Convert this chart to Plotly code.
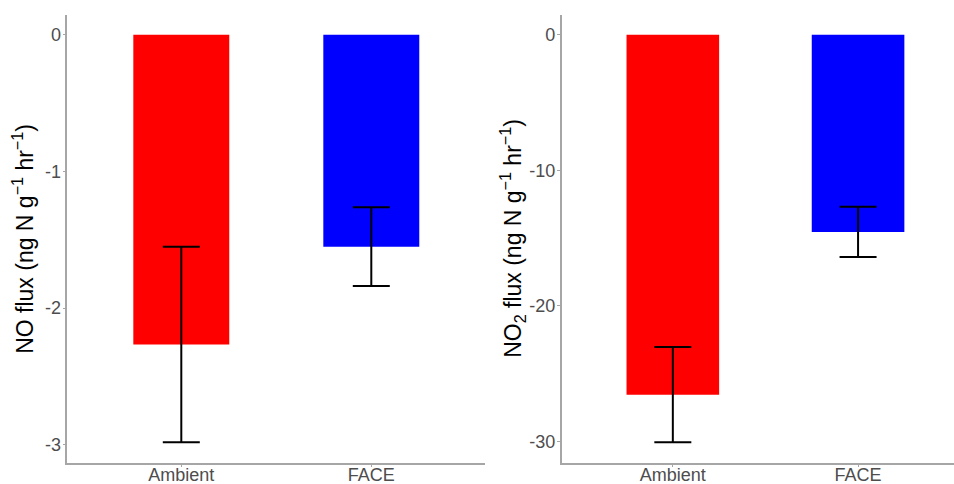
import plotly.graph_objects as go

# Treatment groups and flux summaries (mean and standard error)
treatments = ["Ambient", "FACE"]
bar_colors = ["#FF0000", "#0000FF"]

no_flux_mean = [-2.265, -1.55]
no_flux_se = [0.715, 0.288]

no2_flux_mean = [-26.56, -14.55]
no2_flux_se = [3.52, 1.85]

W, H = 954, 484

fig = go.Figure()

fig.add_trace(go.Bar(
    x=treatments, y=no_flux_mean, width=0.505,
    marker=dict(color=bar_colors, line=dict(width=0)),
    error_y=dict(type="data", array=no_flux_se, color="black",
                 thickness=2, width=18.5),
    xaxis="x", yaxis="y", showlegend=False,
))

fig.add_trace(go.Bar(
    x=treatments, y=no2_flux_mean, width=0.5,
    marker=dict(color=bar_colors, line=dict(width=0)),
    error_y=dict(type="data", array=no2_flux_se, color="black",
                 thickness=2, width=18.5),
    xaxis="x2", yaxis="y2", showlegend=False,
))

def px_x(p):
    return p / W

def px_y(p):
    return 1 - p / H

ydom = [px_y(462.7), px_y(15)]
tick_font = dict(family="Liberation Sans, Arial, sans-serif", size=18, color="#4D4D4D")
axis_common = dict(showline=True, linecolor="#A6A6A6", linewidth=1.5,
                   showgrid=False, zeroline=False, ticks="outside",
                   ticklen=3, tickcolor="#A6A6A6", tickwidth=1,
                   tickfont=tick_font, automargin=False)
x_common = dict(ticklabelstandoff=-8, **axis_common)
y_common = dict(ticklabelstandoff=-2, **axis_common)

fig.update_layout(
    width=W, height=H,
    margin=dict(l=0, r=0, t=0, b=0),
    paper_bgcolor="white", plot_bgcolor="white",
    xaxis=dict(domain=[px_x(67.3), px_x(485.3)], range=[-0.6, 1.6],
               anchor="y", **x_common),
    yaxis=dict(domain=ydom, range=[-3.13, 0.144], anchor="x",
               tickvals=[0, -1, -2, -3], ticktext=["0", "-1", "-2", "-3"],
               **y_common),
    xaxis2=dict(domain=[px_x(561.7), 1.0], range=[-0.6, 1.518],
                anchor="y2", **x_common),
    yaxis2=dict(domain=ydom, range=[-31.58, 1.455], anchor="x2",
                tickvals=[0, -10, -20, -30], ticktext=["0", "-10", "-20", "-30"],
                **y_common),
)

title_font = dict(family="Liberation Sans, Arial, sans-serif", size=23, color="black")
fig.add_annotation(
    text="NO flux (ng N g<sup>−1</sup> hr<sup>−1</sup>)",
    xref="paper", yref="paper", x=px_x(23), y=(ydom[0] + ydom[1]) / 2,
    textangle=-90, showarrow=False, font=title_font,
    xanchor="center", yanchor="middle",
)
fig.add_annotation(
    text="NO<sub>2</sub> flux (ng N g<sup>−1</sup> hr<sup>−1</sup>)",
    xref="paper", yref="paper", x=px_x(512), y=(ydom[0] + ydom[1]) / 2,
    textangle=-90, showarrow=False, font=title_font,
    xanchor="center", yanchor="middle",
)

fig.write_html("out.html")
